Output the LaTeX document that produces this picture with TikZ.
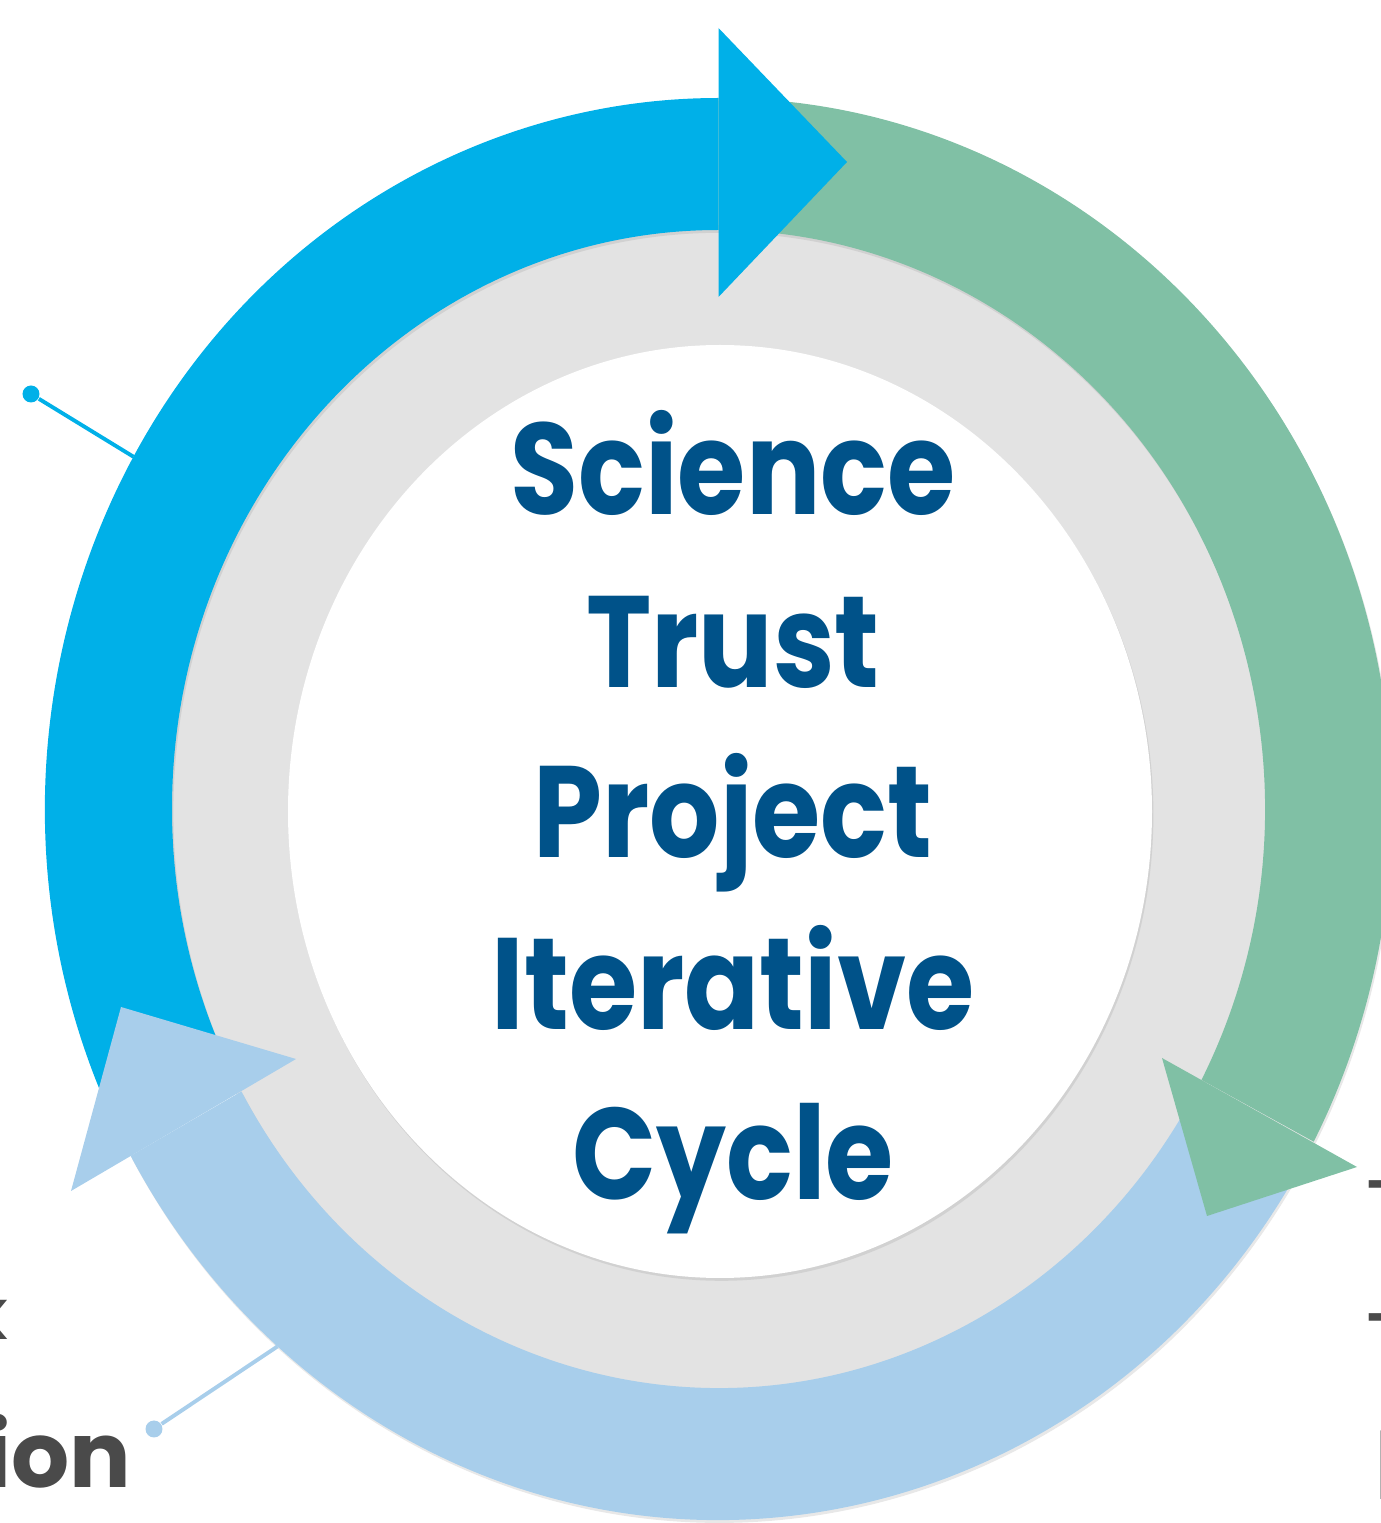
\documentclass[tikz,border=0pt]{standalone}
\usepackage{fontspec}
\setmainfont{Poppins}
\usepackage{xcolor}
\usepackage{tikz}
\usetikzlibrary{positioning, calc, shadows}

\definecolor{cycleblue}{RGB}{0,176,232}
\definecolor{cyclegreen}{RGB}{128,192,165}
\definecolor{cyclelight}{RGB}{168,206,235}
\definecolor{ringgray}{RGB}{227,227,227}
\definecolor{titleblue}{RGB}{0,82,137}
\definecolor{labelgray}{RGB}{74,74,74}

\tikzset{
  title/.style={anchor=base, inner sep=0pt, text=titleblue, font=\fontsize{37}{44}\selectfont\bfseries},
  cutlabel/.style={inner sep=0pt, text=labelgray},
  pin dot/.style={circle, fill, inner sep=0pt, minimum size=0.17cm},
  soft shadow/.style={drop shadow={opacity=0.18, shadow xshift=0.4pt, shadow yshift=-0.8pt}},
}

\begin{document}
\begin{tikzpicture}
        \useasboundingbox (0,0) rectangle (13.81,15.23);
        \clip (0,0) rectangle (13.81,15.23);

        \begin{scope}[shift={(7.185,7.14)}]
          % Gray ring and white centre
          \fill[ringgray] (0,0) ellipse [x radius=5.52cm, y radius=5.84cm];
          \fill[white, soft shadow] (0.015,-0.025) ellipse [x radius=4.32cm, y radius=4.665cm];

          % Bands
          \foreach \col/\from/\to in {cycleblue/206/90, cyclegreen/90/-27.9, cyclelight/-31/-150.8} {
            \fill[\col, soft shadow] (\from:6.735 and 7.11) arc[start angle=\from, end angle=\to, x radius=6.735, y radius=7.11]
              -- (\to:5.465 and 5.79) arc[start angle=\to, end angle=\from, x radius=5.465, y radius=5.79] -- cycle;
          }

          % Heads
          \fill[cycleblue] (0,7.81) -- (1.285,6.47) -- (0,5.12) -- cycle;
          \fill[cyclegreen] (4.435,-2.49) -- (6.385,-3.58) -- (4.885,-4.07) -- cycle;
          \fill[cyclelight] (-4.225,-2.50) -- (-6.475,-3.82) -- (-5.975,-1.98) -- cycle;

          % Pointers
          \node[pin dot, cycleblue] (dotA) at (-6.875,4.15) {};
          \coordinate (edgeA) at (150.3:6.735 and 7.11);
          \draw[cycleblue, line width=1.1pt] (dotA) -- (edgeA);
          \node[pin dot, cyclelight] (dotB) at (-5.645,-6.20) {};
          \coordinate (edgeB) at (229.1:6.735 and 7.11);
          \draw[cyclelight, line width=1.1pt] (dotB) -- (edgeB);
        \end{scope}

        % Title
        \foreach \word/\y [count=\i] in {Science/10.08, Trust/8.35, Project/6.65, Iterative/4.93, Cycle/3.23} {
          \node[title] (t\i) at (7.33,\y) {\scalebox{0.85}[1]{\word}};
        }

        % Cut labels
        \node[cutlabel, anchor=base east, font=\fontsize{20}{24}\selectfont\bfseries] (lk) at (0.09,1.83) {k};
        \node[cutlabel, anchor=base east, font=\fontsize{26}{30}\selectfont\bfseries] (lion) at (1.32,0.35) {ion};
        \node[cutlabel, anchor=mid west, font=\fontsize{28}{32}\selectfont] (r1) at (13.63,3.125) {-};
        \node[cutlabel, anchor=mid west, font=\fontsize{28}{32}\selectfont] (r2) at (13.63,1.795) {-};
        \node[cutlabel, anchor=base west, font=\fontsize{28}{32}\selectfont] (r3) at (13.73,0.23) {I};
      \end{tikzpicture}
\end{document}
